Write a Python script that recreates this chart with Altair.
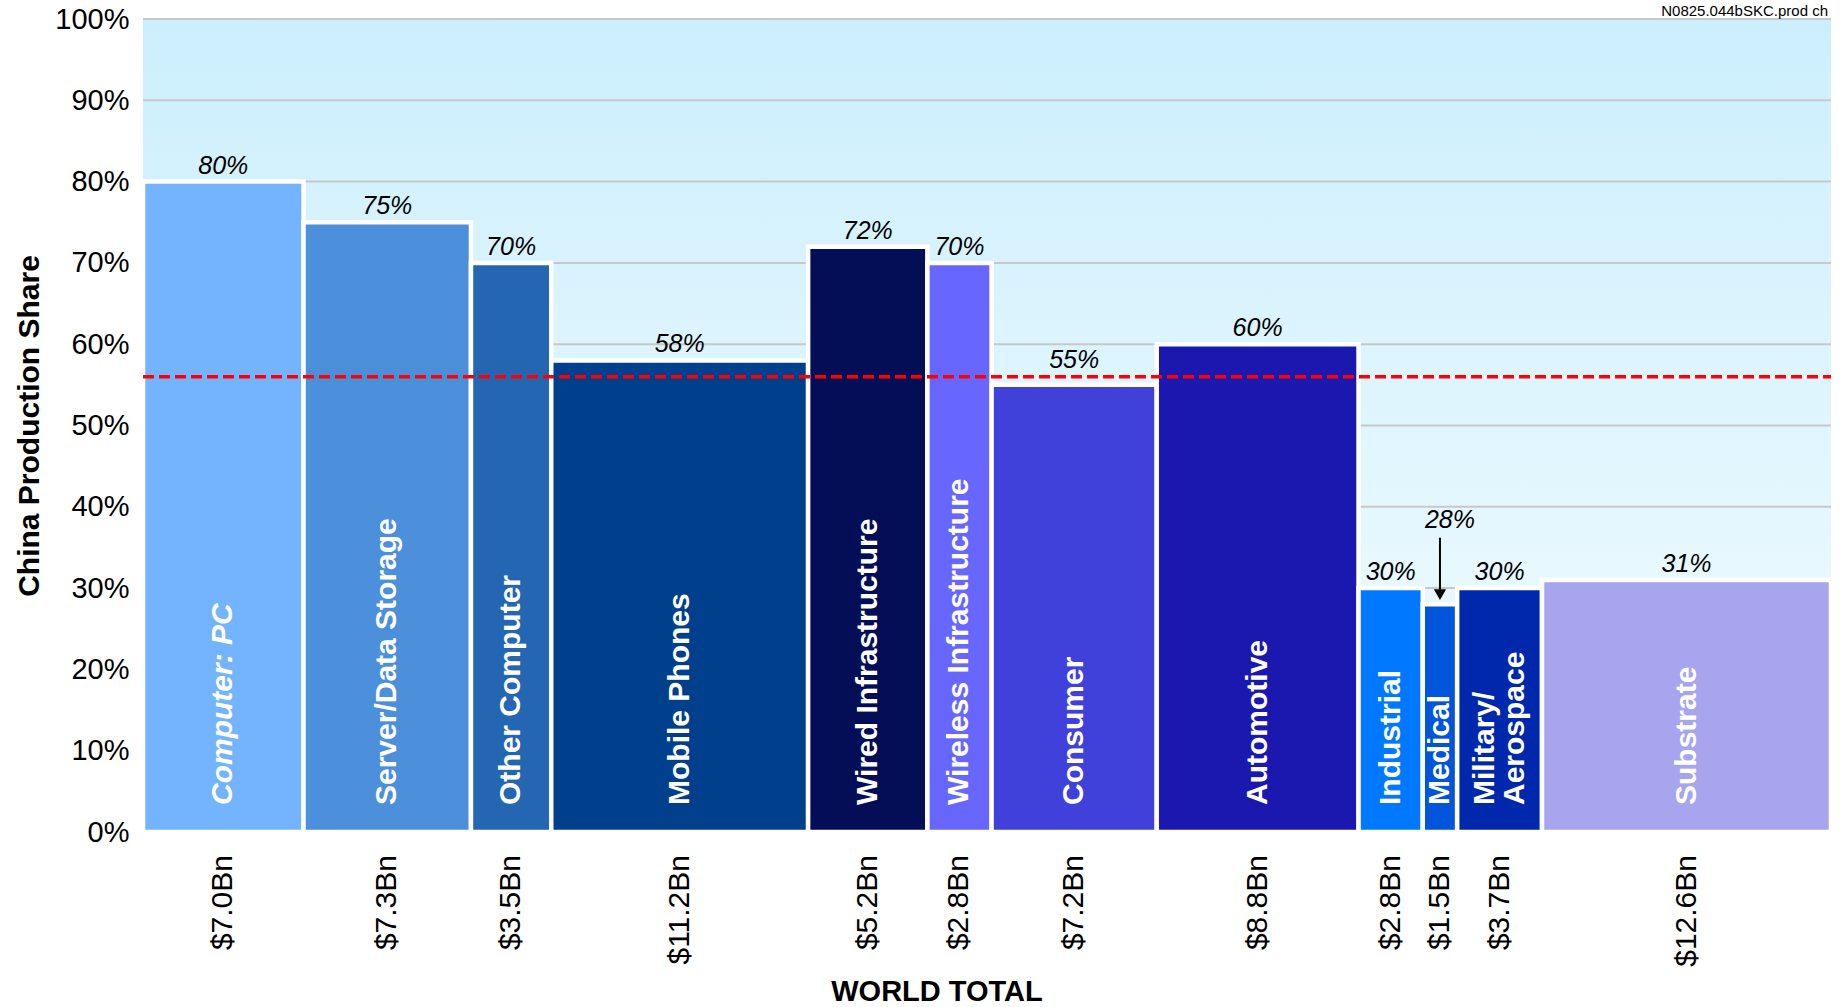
import altair as alt
import pandas as pd

# Electronics segments, world production totals ($Bn) and China's share (%)
categories = ["Computer: PC", "Server/Data Storage", "Other Computer", "Mobile Phones",
              "Wired Infrastructure", "Wireless Infrastructure", "Consumer", "Automotive",
              "Industrial", "Medical", "Military/\nAerospace", "Substrate"]
world_total_bn = [7.0, 7.3, 3.5, 11.2, 5.2, 2.8, 7.2, 8.8, 2.8, 1.5, 3.7, 12.6]
china_share = [80, 75, 70, 58, 72, 70, 55, 60, 30, 28, 30, 31]
bar_colors = ["#74B4FE", "#4C8FDA", "#2466B2", "#003F8C", "#030E57", "#6767FF",
              "#4040DB", "#1B18B0", "#0078FF", "#0055DB", "#0028AD", "#A6A5EE"]
italic_names = ["Computer: PC"]
callout_name = "Medical"          # segment whose share label sits above an arrow
average_share = 56                # overall China share (dashed line)
y_ticks = list(range(0, 101, 10))
source_code = "N0825.044bSKC.prod ch"

W, H = 1688, 813
FONT = "Liberation Sans"

# Marimekko layout: bar widths proportional to world totals
df = pd.DataFrame({"category": categories, "total": world_total_bn,
                   "share": china_share, "color": bar_colors})
df["end"] = df["total"].cumsum()
df["start"] = df["end"] - df["total"]
df["mid"] = (df["start"] + df["end"]) / 2
df["base"] = 0
df["share_label"] = df["share"].astype(str) + "%"
df["total_label"] = df["total"].map(lambda v: f"${v:.1f}Bn")
df["multiline"] = df["category"].str.contains("\n")
# labels that would collide with the dashed average line are lifted clear of it
df["lifted"] = (df["share"] < average_share) & (df["share"] + 4 > average_share)
grand_total = float(df["end"].iloc[-1])

x_scale = alt.Scale(domain=[0, grand_total], nice=False, zero=False)
y_scale = alt.Scale(domain=[0, 100], nice=False)

y_axis = alt.Axis(
    title="China Production Share", titleFontSize=30, titleFontWeight="bold",
    titleColor="black", titleAngle=270, titleX=-114, titleY=H / 2,
    titleAlign="center", titleBaseline="middle", titleFont=FONT,
    values=y_ticks, labelExpr="datum.value + '%'", labelFontSize=29,
    labelColor="black", labelPadding=14, labelFont=FONT,
    ticks=False, domain=False, grid=False,
)

# Plot background with soft vertical gradient
bg_df = pd.DataFrame({"x0": [0.0], "x1": [grand_total], "y0": [0], "y1": [100]})
background = alt.Chart(bg_df).mark_rect(
    fill=alt.LinearGradient(
        gradient="linear", x1=0, x2=0, y1=0, y2=1,
        stops=[alt.GradientStop(offset=0, color="#CCEFFD"),
               alt.GradientStop(offset=1, color="#F4FCFF")],
    )
).encode(
    x=alt.X("x0:Q", scale=x_scale, axis=None), x2="x1:Q",
    y=alt.Y("y0:Q", scale=y_scale, axis=y_axis), y2="y1:Q",
)

grid_df = pd.DataFrame({"tick": y_ticks[1:], "x0": 0.0, "x1": grand_total})
grid = alt.Chart(grid_df).mark_rule(color="#C8C8C8", strokeWidth=2).encode(
    x=alt.X("x0:Q", scale=x_scale, axis=None), x2="x1:Q",
    y=alt.Y("tick:Q", scale=y_scale),
)

bars = alt.Chart(df).mark_rect(stroke="white", strokeWidth=4.5).encode(
    x=alt.X("start:Q", scale=x_scale, axis=None), x2="end:Q",
    y=alt.Y("share:Q", scale=y_scale), y2="base:Q",
    color=alt.Color("color:N", scale=None),
)

avg_df = pd.DataFrame({"y": [average_share], "x0": [0.0], "x1": [grand_total]})
avg_line = alt.Chart(avg_df).mark_rule(
    color="#FF0000", strokeWidth=3.5, strokeDash=[11, 5]
).encode(
    x=alt.X("x0:Q", scale=x_scale, axis=None), x2="x1:Q",
    y=alt.Y("y:Q", scale=y_scale),
)

# Segment names written upward inside the bars
inner_common = dict(angle=270, align="left", baseline="middle", dx=27,
                    color="white", fontSize=30, fontWeight="bold",
                    font=FONT, lineBreak="\n", lineHeight=30)
inner_enc = dict(x=alt.X("mid:Q", scale=x_scale, axis=None),
                 y=alt.Y("base:Q", scale=y_scale), text="category:N")
is_italic = alt.FieldOneOfPredicate(field="category", oneOf=italic_names)
is_multi = alt.FieldEqualPredicate(field="multiline", equal=True)
inner_plain = alt.Chart(df).transform_filter(~is_italic).transform_filter(
    ~is_multi).mark_text(**inner_common).encode(**inner_enc)
inner_multi = alt.Chart(df).transform_filter(is_multi).mark_text(
    dy=-15, **inner_common).encode(**inner_enc)
inner_italic = alt.Chart(df).transform_filter(is_italic).mark_text(
    fontStyle="italic", **inner_common).encode(**inner_enc)

value_common = dict(fontStyle="italic", fontSize=25, font=FONT, color="black",
                    baseline="alphabetic")
value_enc = dict(x=alt.X("mid:Q", scale=x_scale, axis=None),
                 y=alt.Y("share:Q", scale=y_scale), text="share_label:N")
is_lifted = alt.FieldEqualPredicate(field="lifted", equal=True)
value_base = alt.Chart(df).transform_filter(alt.datum.category != callout_name)
value_labels = value_base.transform_filter(~is_lifted).mark_text(
    dy=-8, **value_common).encode(**value_enc)
value_lifted = value_base.transform_filter(is_lifted).mark_text(
    dy=-17, **value_common).encode(**value_enc)

# Callout for the narrow segment: label raised, arrow pointing to the bar top
callout = df[df["category"] == callout_name].copy()
callout["label_y"] = callout["share"] + 10.4
callout["arrow_top"] = callout["share"] + 8.2
callout["arrow_end"] = callout["share"] + 1.8
callout["head_y"] = callout["share"] + 1.2
callout_text = alt.Chart(callout).mark_text(
    fontStyle="italic", fontSize=25, font=FONT, color="black", baseline="middle",
    dx=10,
).encode(
    x=alt.X("mid:Q", scale=x_scale, axis=None),
    y=alt.Y("label_y:Q", scale=y_scale), text="share_label:N",
)
callout_shaft = alt.Chart(callout).mark_rule(color="black", strokeWidth=2).encode(
    x=alt.X("mid:Q", scale=x_scale, axis=None),
    y=alt.Y("arrow_top:Q", scale=y_scale), y2="arrow_end:Q",
)
callout_head = alt.Chart(callout).mark_point(
    shape="triangle-down", filled=True, color="black", size=150, opacity=1,
).encode(
    x=alt.X("mid:Q", scale=x_scale, axis=None),
    y=alt.Y("head_y:Q", scale=y_scale),
)

total_labels = alt.Chart(df).mark_text(
    angle=270, align="right", baseline="middle", dx=-23,
    fontSize=30, font=FONT, color="black",
).encode(
    x=alt.X("mid:Q", scale=x_scale, axis=None),
    y=alt.Y("base:Q", scale=y_scale), text="total_label:N",
)

world_title = alt.Chart(pd.DataFrame({"t": ["WORLD TOTAL"]})).mark_text(
    fontSize=29, fontWeight="bold", font=FONT, color="black",
    align="center", baseline="middle",
).encode(x=alt.value(794), y=alt.value(973), text="t:N")

code_text = alt.Chart(pd.DataFrame({"t": [source_code]})).mark_text(
    fontSize=15, font=FONT, color="black", align="right", baseline="alphabetic",
).encode(x=alt.value(W - 3), y=alt.value(-3), text="t:N")

chart = alt.layer(
    background, grid, bars, avg_line, inner_plain, inner_multi, inner_italic,
    value_labels, value_lifted, callout_text, callout_shaft, callout_head,
    total_labels, world_title, code_text,
).properties(
    width=W, height=H,
    autosize=alt.AutoSizeParams(type="none"),
    padding={"left": 143, "top": 19, "right": 12, "bottom": 175},
    background="white",
).configure(font=FONT).configure_view(stroke=None)

chart.save("out.html", embed_options={"renderer": "svg", "actions": False})
